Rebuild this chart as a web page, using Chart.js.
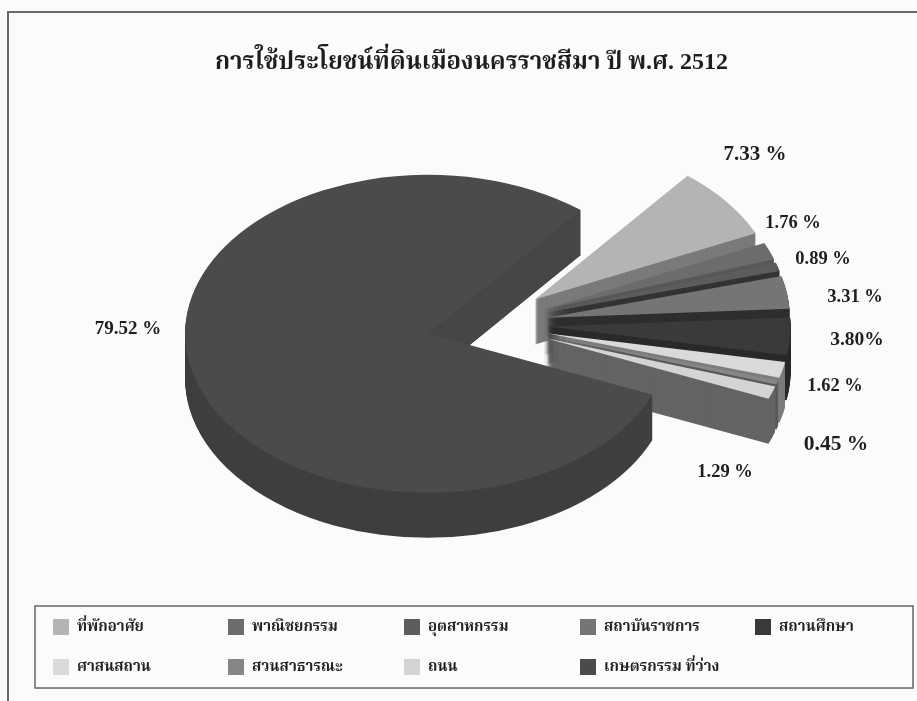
<!DOCTYPE html>
<html>
<head>
<meta charset="utf-8">
<style>html,body{margin:0;padding:0;background:#fbfbfb}canvas{display:block;filter:blur(0.5px)}</style>
<script src="https://cdn.jsdelivr.net/npm/chart.js@4/dist/chart.umd.min.js"></script>
</head>
<body>
<canvas id="c" width="917" height="701"></canvas>
<script>
const categories = ['ที่พักอาศัย','พาณิชยกรรม','อุตสาหกรรม','สถาบันราชการ','สถานศึกษา','ศาสนสถาน','สวนสาธารณะ','ถนน','เกษตรกรรม ที่ว่าง'];
const shares = [7.33,1.76,0.89,3.31,3.80,1.62,0.45,1.29,79.52];
const valueLabels = ['7.33 %','1.76 %','0.89 %','3.31 %','3.80%','1.62 %','0.45 %','1.29 %','79.52 %'];
const topColours = ['#b4b4b4','#6c6c6c','#5c5c5c','#757575','#3a3a3a','#dadada','#868686','#d4d4d4','#4b4b4b'];
const sideColours = ['#7a7a7a','#585858','#333333','#2e2e2e','#2a2a2a','#7c7c7c','#5a5a5a','#646464','#3f3f3f'];
const titleText = 'การใช้ประโยชน์ที่ดินเมืองนครราชสีมา ปี พ.ศ. 2512';

// layout constants of the drawing (not data)
const pie = {cx:487, cy:324, rx:243, ry:159, depth:45, explode:0.25};
const cutWall = {x:425, y:200, w:165, h:190, colour:'#474747'};
const labelXY = [[755,155,21],[793,223,18.5],[823,259,18.5],[855,297,18.5],[857,340,19.5],[835,386,18.5],[836,444,21.5],[725,472,18.5],[128,329,19]];
const legendBox = {x:35, y:606, w:878, h:82};
const legendCols = [53,228,404,580,755], legendRows = [619,659], swatch = 16;
const THAI = '"Liberation Serif","Noto Serif Thai","Noto Sans Thai","Noto Sans",serif';

const scan = {
  id:'scan',
  beforeDraw(chart){
    const c = chart.ctx; c.save();
    c.fillStyle='#fbfbfb'; c.fillRect(0,0,917,701);
    c.strokeStyle='#6a6a6a'; c.lineWidth=2;
    c.beginPath(); c.moveTo(8,701); c.lineTo(8,12); c.lineTo(917,12); c.stroke();
    c.restore();
  },
  beforeDatasetsDraw(chart){
    const c = chart.ctx, arcs = chart.getDatasetMeta(0).data;
    arcs.forEach((el,i)=>{
      const mid=(el.startAngle+el.endAngle)/2, R=el.outerRadius;
      const px=pie.cx+Math.cos(mid)*pie.explode*pie.rx, py=pie.cy+Math.sin(mid)*pie.explode*pie.ry;
      const base=el.options;
      const paint=(dy,col)=>{
        el.options=Object.assign({},base,{backgroundColor:col,borderWidth:0});
        c.save(); c.translate(px,py+dy); c.scale(pie.rx/R,pie.ry/R); c.translate(-el.x,-el.y);
        el.draw(c); c.restore();
      };
      for(let d=pie.depth;d>0;d--) paint(d,sideColours[i]);
      if(i===arcs.length-1){
        c.save(); c.beginPath(); c.rect(cutWall.x,cutWall.y,cutWall.w,cutWall.h); c.clip();
        for(let d=pie.depth;d>0;d--) paint(d,cutWall.colour);
        c.restore();
      }
      paint(0,topColours[i]);
      el.options=base;
    });
    return false;
  },
  afterDraw(chart){
    const c=chart.ctx; c.save();
    c.fillStyle='#1e1e1e'; c.textAlign='center'; c.textBaseline='middle';
    valueLabels.forEach((t,i)=>{
      c.font='bold '+labelXY[i][2]+'px "Liberation Serif",serif';
      c.fillText(t,labelXY[i][0],labelXY[i][1]);
    });
    c.strokeStyle='#666'; c.lineWidth=1.5;
    c.strokeRect(legendBox.x,legendBox.y,legendBox.w,legendBox.h);
    c.textAlign='left';
    categories.forEach((t,i)=>{
      const x=legendCols[i%5], y=legendRows[Math.floor(i/5)];
      c.fillStyle=topColours[i]; c.fillRect(x,y,swatch,swatch);
      c.fillStyle='#222'; c.font='bold 15px '+THAI;
      c.fillText(t,x+24,y+8);
    });
    c.restore();
  }
};

new Chart(document.getElementById('c'),{
  type:'pie',
  data:{labels:categories,datasets:[{data:shares,backgroundColor:topColours,borderWidth:0}]},
  options:{
    responsive:false,animation:false,rotation:38.9,
    layout:{padding:{left:26,top:48,bottom:20}},
    plugins:{
      legend:{display:false},tooltip:{enabled:false},
      title:{display:true,text:titleText,color:'#1e1e1e',font:{family:THAI,size:24,weight:'bold'},padding:{top:0,bottom:10}}
    }
  },
  plugins:[scan]
});
</script>
</body>
</html>
